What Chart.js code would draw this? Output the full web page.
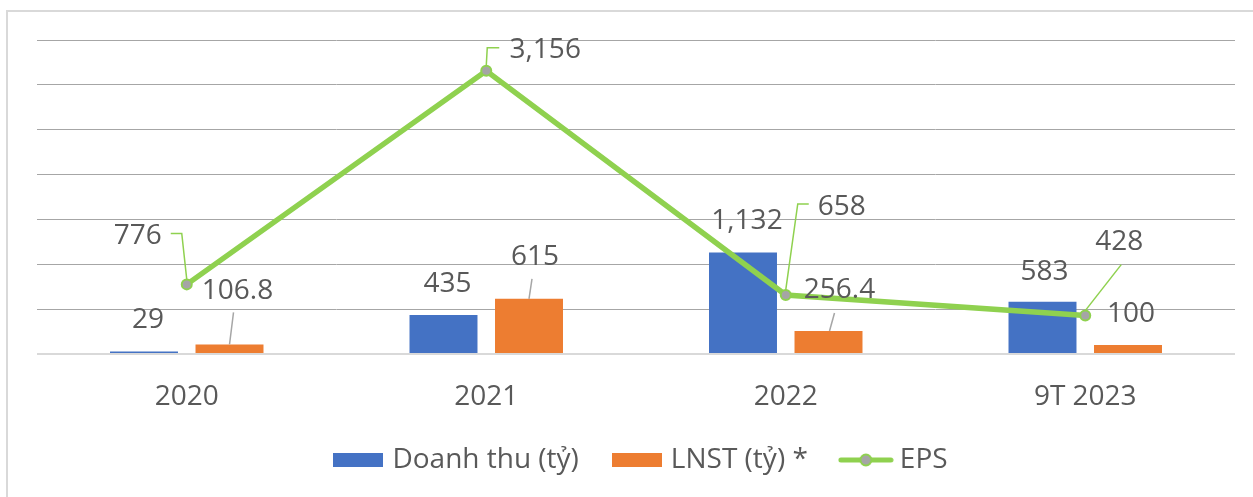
<!DOCTYPE html>
<html>
<head>
<meta charset="utf-8">
<script src="https://cdn.jsdelivr.net/npm/chart.js@4/dist/chart.umd.min.js"></script>
<style>
  html, body { margin: 0; padding: 0; background: #fff; overflow: hidden; }
  #frame {
    position: absolute; left: 6px; top: 10px; width: 1400px; height: 600px;
    border: 2px solid #d9d9d9; box-sizing: border-box;
  }
  #c { position: absolute; left: 0; top: 0; }
</style>
</head>
<body>
<div id="frame"></div>
<canvas id="c" width="1253" height="497"></canvas>
<script>
// chart data
const categories = ['2020', '2021', '2022', '9T 2023'];
const doanhThu = [29, 435, 1132, 583];      // Doanh thu (tỷ)
const lnst = [106.8, 615, 256.4, 100];      // LNST (tỷ) *
const eps = [776, 3156, 658, 428];          // EPS
const yTicks = [0, 500, 1000, 1500, 2000, 2500, 3000, 3500];

const BLUE = '#4472c4';
const ORANGE = '#ed7d31';
const GREEN = '#8fd14f';
const MARKER = '#a5a5a5';
const TEXT = '#595959';
const FONT = "'Open Sans', sans-serif";
const FONT_SIZE = 28;

// label placement relative to each mark (bar top / point centre), Excel-style
const labelLayout = [
  [ // Doanh thu
    { dx: 4, dy: -31 }, { dx: 4, dy: -31 }, { dx: 4, dy: -31 }, { dx: 2, dy: -30 },
  ],
  [ // LNST
    { dx: 8, dy: -53, leader: [[4, -32], [0, 0]] },
    { dx: 6, dy: -42, leader: [[3, -20], [0, 0]] },
    { dx: 11, dy: -41, leader: [[6, -18], [1, 0]] },
    { dx: 3, dy: -31 },
  ],
  [ // EPS
    { dx: -49, dy: -48, leader: [[0, -5], [-5, -51], [-16, -51]] },
    { dx: 59, dy: -21, leader: [[0, -5], [1, -23], [13, -23]] },
    { dx: 56, dy: -88, leader: [[0, -5], [12, -91], [23, -91]] },
    { dx: 34, dy: -74, leader: [[0, -5], [36, -51]] },
  ],
];

const dataLabels = {
  id: 'dataLabels',
  afterLayout(chart) {
    // nudge the legend row to where Excel put it
    chart.legend.left += 7;
    chart.legend.right += 7;
  },
  afterDatasetsDraw(chart) {
    const ctx = chart.ctx;
    chart.data.datasets.forEach((ds, di) => {
      const meta = chart.getDatasetMeta(di);
      meta.data.forEach((el, i) => {
        const spec = labelLayout[di][i];
        const x = el.x, y = el.y;
        if (spec.leader) {
          ctx.save();
          ctx.strokeStyle = di === 2 ? GREEN : '#a6a6a6';
          ctx.lineWidth = 1.5;
          ctx.beginPath();
          spec.leader.forEach(([lx, ly], k) => {
            if (k === 0) ctx.moveTo(x + lx, y + ly);
            else ctx.lineTo(x + lx, y + ly);
          });
          ctx.stroke();
          ctx.restore();
        }
        ctx.save();
        ctx.font = FONT_SIZE + 'px ' + FONT;
        ctx.fillStyle = TEXT;
        ctx.textAlign = 'center';
        ctx.textBaseline = 'middle';
        ctx.fillText(ds.data[i].toLocaleString('en-US'), x + spec.dx, y + spec.dy);
        ctx.restore();
      });
    });
  }
};

function boxIcon(color) {
  const c = document.createElement('canvas');
  c.width = 50; c.height = 14;
  const g = c.getContext('2d');
  g.fillStyle = color;
  g.fillRect(0, 0, 50, 14);
  return c;
}

function lineIcon() {
  const c = document.createElement('canvas');
  c.width = 56; c.height = 16;
  const g = c.getContext('2d');
  g.strokeStyle = GREEN;
  g.lineWidth = 5;
  g.lineCap = 'round';
  g.beginPath(); g.moveTo(3, 8); g.lineTo(53, 8); g.stroke();
  g.beginPath(); g.arc(28, 8, 5.5, 0, Math.PI * 2);
  g.fillStyle = MARKER; g.fill();
  g.lineWidth = 2; g.stroke();
  return c;
}

const icons = [boxIcon(BLUE), boxIcon(ORANGE), lineIcon()];

new Chart(document.getElementById('c'), {
  data: {
    labels: categories,
    datasets: [
      {
        type: 'bar', label: 'Doanh thu (tỷ)', data: doanhThu,
        backgroundColor: BLUE, order: 1,
        categoryPercentage: 0.571, barPercentage: 0.795,
      },
      {
        type: 'bar', label: 'LNST (tỷ) *', data: lnst,
        backgroundColor: ORANGE, order: 1,
        categoryPercentage: 0.571, barPercentage: 0.795,
      },
      {
        type: 'line', label: 'EPS', data: eps,
        borderColor: GREEN, borderWidth: 5.5, tension: 0,
        pointRadius: 5, pointBorderWidth: 2,
        pointBackgroundColor: MARKER, pointBorderColor: GREEN,
        order: 0,
      },
    ],
  },
  options: {
    responsive: false,
    animation: false,
    layout: { padding: { left: 37, right: 18, top: 40, bottom: 13 } },
    plugins: {
      tooltip: { enabled: false },
      legend: {
        position: 'bottom',
        labels: {
          usePointStyle: true,
          pointStyleWidth: 40,
          padding: 38,
          color: TEXT,
          font: { family: FONT, size: FONT_SIZE },
          generateLabels: (chart) => chart.data.datasets.map((ds, i) => ({
            text: ds.label,
            pointStyle: icons[i],
            fontColor: TEXT,
            datasetIndex: i,
            hidden: false,
            lineWidth: 0,
          })),
        },
      },
    },
    scales: {
      x: {
        grid: { display: false },
        border: { display: false },
        ticks: { color: TEXT, font: { family: FONT, size: FONT_SIZE }, padding: 18 },
        afterFit: (axis) => { axis.height = 54; },
      },
      y: {
        min: yTicks[0],
        max: yTicks[yTicks.length - 1],
        afterBuildTicks: (axis) => { axis.ticks = yTicks.map(v => ({ value: v })); },
        ticks: { display: false },
        border: { display: false },
        grid: {
          drawTicks: false,
          color: (c) => c.tick.value === 0 ? '#d9d9d9' : '#a6a6a6',
          lineWidth: (c) => c.tick.value === 0 ? 2 : 1,
        },
      },
    },
  },
  plugins: [dataLabels],
});
</script>
</body>
</html>
